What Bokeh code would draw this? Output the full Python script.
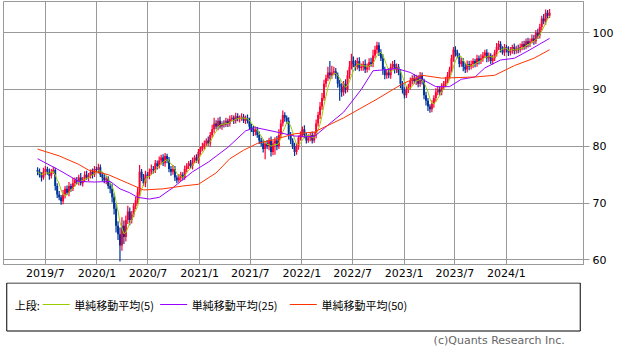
import numpy as np
import pandas as pd
from bokeh.plotting import figure
from bokeh.layouts import column
from bokeh.models import Range1d, FixedTicker, ColumnDataSource
from bokeh.core.properties import value
from bokeh.embed import file_html
from bokeh.resources import INLINE

# ---------------- data (weekly) ----------------
start_date = "2019-06-03"
first_open = 75.8
closes = [
    75.5, 75, 74.5, 75.5, 76, 75.5, 74.8, 75.5, 75.8,
    73, 71.5, 71, 70.3,
    71.5, 72.5, 71.8, 73, 72.5, 73.5,
    74, 73.8, 74.5, 73.5, 74.2, 75, 74.5, 74.8, 75.5, 75,
    76, 75.8, 76.3,
    75, 74.5, 74, 74.3,
    73, 72.5, 71,
    69, 66, 64.5, 62.5, 66, 64,
    67, 68.5, 67, 68, 69.5, 70.5, 72,
    75.5, 74.5, 73.5, 75, 74.8, 75.5, 76, 75.8,
    77, 76.5, 77.5, 78, 77, 78.3, 77.5,
    76, 75.5, 76, 74.5, 74, 74.5, 75, 74.5,
    76, 76.5, 77, 76.5, 77.5, 78, 77.5,
    79, 79.5, 80, 80.5, 81, 80.5, 82,
    83, 84, 83.5, 84.5, 83.5, 84, 83.8,
    84.5, 84, 84.8, 85, 84.5, 85.3, 84.8, 85, 85.2, 84.5, 85, 84.5,
    83.5, 83, 82.5, 83, 82,
    81, 80.5, 79.5, 80.5, 80, 81, 79, 80.5, 81, 80,
    82, 84, 85.5, 85, 84.5,
    82, 81, 80, 79, 80,
    81.5, 82, 83, 82, 81, 81.5, 82, 81, 82,
    84, 85.5, 87, 88.5, 91, 92,
    93, 92.5, 93, 93.2, 92.5,
    91, 90.5, 89.5, 91, 90,
    92.5, 94, 95, 94.5, 94, 95, 93.8,
    94, 94.5, 93.5, 94, 94.8, 94.5,
    96, 97, 97.8, 96.5, 95.5,
    93.5, 92.5, 93, 92.5,
    94, 94.5, 93.5, 94, 93,
    91, 90, 89, 90, 90.5,
    91.5, 92, 91.5, 92, 91, 92.5, 91.5,
    89, 88, 87, 86.5, 87.5,
    88.5, 89.5, 90, 89.5, 90.5, 91, 91.5,
    92.5, 93.5, 95.5, 97, 96.5, 96,
    94.5, 95, 94, 93.5, 94.5, 94,
    94.5, 95, 94.5, 95.5, 95, 95.5,
    96, 96.5, 95.5, 96, 95, 95.5, 96.5,
    97.5, 98, 97, 96.5, 97.5, 97,
    96.5, 97, 97.5, 96.8, 97.2, 97,
    97.5, 98, 97.5, 98.5, 98,
    98.5, 99, 98.5, 100, 99.5, 101,
    102.5, 102, 103.5, 103, 103.5,
]
up_wicks = [
    .5, .6, .4, .7, .5, .4, .6, .5, .6, .4,
    .5, .6, .4, .8, .5, .6, .7, .4, .9, .5,
    .6, .5, .8, .4, .6, .7, .5, .4, .6, .5,
    .4, .6, .5, .4, .6, .5, .4, .6, .8, .7,
    1.0, .8, 1.2, 1.5, .9, .8, 1.0, .7, .6, .5,
    .6, .8, 1.2, .5, .6, .7, .4, .6, .8, .5,
    .6, .5, .7, .5, .6, .5, .4, .6, .5, .7,
    .5, .4, .6, .5, .4, .6, .5, .4, .6, .5,
    .4, .6, .5, .4, .6, .5, .4, .7, .5, .8,
    1.0, .6, .5, .7, .4, .6, .5, .4, .6, .5,
    .4, .6, .5, .4, .6, .5, .4, .6, .5, .4,
    .6, .5, .4, .6, .5, .7, .4, .6, .5, .7,
    .5, .6, .8, 1.0, .7, .8, .5, .4, .6, .5,
    .4, .6, .5, .4, .6, .5, .7, .4, .6, .5,
    .6, .5, .7, .6, .8, .9, .7, .6, 1.0, 2.0,
    1.2, .8, .6, .5, .7, .6, .5, .8, .9, 1.0,
    1.3, .8, .7, .6, .7, .6, .5, .8, .6, .7,
    .8, 1.0, .7, .6, .5, .6, .7, .5, .6, .8,
    .6, .5, .7, .6, .5, .6, .5, .4, .6, .5,
    .6, .5, .7, .6, .5, .6, .5, .4, .6, .5,
    .4, .6, .5, .7, .6, .5, .6, .5, .7, .6,
    .5, .6, .5, .6, .5, .4, .6, .5, .7, .6,
    .5, .6, .5, .4, .6, .5, .7, .6, .5, .6,
    .5, .4, .6, .5, .7, .6, .5, .6, .5, .4,
    .6, .5, .4, .6, .5, .7, .6, .5, .6, .5,
    .6, .5, .7, .6, .5, .7, .6, .5, .8, .6,
    .5, .7,
]
down_wicks = [
    .6, .5, .7, .4, .6, .5, .7, .5, .4, .8,
    .6, .5, .6, .5, .7, .4, .6, .5, .4, .6,
    .5, .7, .4, .6, .5, .4, .6, .5, .7, .4,
    .5, .6, .4, .6, .5, .7, .5, .8, .9, 1.0,
    1.2, 1.0, 2.8, .9, 1.2, .8, .7, .9, .6, .5,
    .6, .7, .8, .6, .5, .7, .4, .6, .5, .6,
    .5, .6, .4, .7, .5, .6, .5, .6, .7, .5,
    .6, .5, .4, .6, .5, .4, .6, .5, .4, .6,
    .5, .4, .6, .5, .4, .6, .5, .4, .6, .5,
    .6, .5, .7, .4, .6, .5, .4, .6, .5, .4,
    .6, .5, .4, .6, .5, .4, .6, .5, .6, .5,
    .7, .6, .5, .6, .5, .6, 1.8, .5, .7, .8,
    .6, 2.0, .7, .5, .6, .5, .7, .6, .8, .6,
    .5, .7, .5, .6, .5, .4, .6, .5, .4, .6,
    .5, .4, .6, .5, .7, .6, .5, .6, .5, .7,
    .6, .5, .6, .7, 2.5, .8, .6, .7, .5, .6,
    .5, .6, .7, .5, .6, .5, .7, .6, .5, .6,
    .5, .6, .5, .7, .6, .5, .9, .7, .6, .5,
    .6, .5, .7, .6, .5, .8, .7, .6, .5, .6,
    .5, .6, .5, .7, .6, .5, .6, .7, .8, .8,
    .6, .5, .7, .6, .5, .6, .5, .6, .5, .4,
    .6, .5, .6, .7, .5, .6, .5, .8, .6, .5,
    .6, .5, .7, .6, .5, .6, .5, .6, .5, .7,
    .6, .5, .6, .5, .7, .6, .5, .4, .6, .5,
    .6, .5, .7, .6, .5, .6, .5, .6, .5, .4,
    .6, .5, .4, .6, .5, .6, .5, .6, .5, .6,
    .5, .4,
]

ma25_weeks = [0, 11, 21, 29, 37, 42, 47, 51, 57, 62, 69, 79, 87, 97, 106, 111,
              122, 131, 141, 150, 156, 165, 171, 178, 183, 190, 196, 203, 210,
              216, 223, 228, 236, 243, 250, 256, 261]
ma25_values = [77.8, 75.8, 73.8, 73.7, 73.8, 72.5, 71.8, 71.0, 70.7, 71.0, 72.7,
               75.5, 77.2, 79.8, 82.7, 83.3, 82.5, 81.8, 81.7, 84.3, 86.0, 90.0,
               93.3, 93.5, 93.7, 93.0, 91.8, 90.5, 90.5, 91.8, 92.2, 93.8, 95.2,
               95.5, 96.8, 98.0, 99.0]
ma50_weeks = [0, 11, 21, 26, 36, 46, 54, 64, 74, 82, 91, 98, 105, 112, 122, 131,
              141, 156, 173, 186, 196, 206, 223, 233, 243, 253, 261]
ma50_values = [79.5, 78.3, 76.8, 75.8, 75.0, 73.5, 72.3, 72.5, 73.0, 73.3, 75.3,
               77.8, 79.3, 80.5, 81.3, 82.2, 82.5, 85.0, 88.3, 91.0, 92.5, 92.0,
               92.2, 92.5, 94.2, 95.5, 97.0]

tick_dates = ["2019-07-01", "2020-01-01", "2020-07-01", "2021-01-01", "2021-07-01",
              "2022-01-01", "2022-07-01", "2023-01-01", "2023-07-01", "2024-01-01"]
tick_labels = ["2019/7", "2020/1", "2020/7", "2021/1", "2021/7",
               "2022/1", "2022/7", "2023/1", "2023/7", "2024/1"]
y_ticks = [60, 70, 80, 90, 100]

legend_title = "上段:"
legend_labels = ["単純移動平均(5)", "単純移動平均(25)", "単純移動平均(50)"]
ma_colors = ["#99cc00", "#9900ff", "#ff3300"]
up_color = "#ff0033"
down_color = "#003399"
copyright_text = "(c)Quants Research Inc."

# ---------------- build ----------------
origin = pd.Timestamp("2019-07-01")
n = min(len(closes), len(up_wicks), len(down_wicks))
cl = np.array(closes[:n], dtype=float)
op = np.concatenate([[first_open], cl[:-1]])
top = np.maximum(op, cl)
bot = np.minimum(op, cl)
hi = top + np.array(up_wicks[:n])
lo = bot - np.array(down_wicks[:n])
dates = pd.date_range(start_date, periods=n, freq="7D")
xd = np.array((dates - origin).days, dtype=float)
colors = [up_color if c >= o else down_color for o, c in zip(op, cl)]
bot_adj = np.where(top - bot < 0.2, top - 0.2, bot)

src = ColumnDataSource(dict(x=xd, hi=hi, lo=lo, top=top, bot=bot_adj, color=colors))
ma5 = pd.Series(cl).rolling(5, min_periods=1).mean().values

def wk_x(weeks):
    return [float(xd[min(w, n - 1)]) for w in weeks]

tick_x = [float((pd.Timestamp(d) - origin).days) for d in tick_dates]

p = figure(width=622, height=282, output_backend="svg", toolbar_location=None,
           x_range=Range1d(-149.6, 1920), y_range=Range1d(59.17, 105.5),
           y_axis_location="right",
           min_border_left=3, min_border_right=39, min_border_top=1, min_border_bottom=15)
p.background_fill_color = "white"
p.border_fill_color = "white"
p.outline_line_color = "#999999"
p.outline_line_width = 1

grid_col = "#999999"
p.xaxis.ticker = FixedTicker(ticks=tick_x)
p.xgrid.ticker = FixedTicker(ticks=tick_x)
p.xaxis.major_label_overrides = {t: l for t, l in zip(tick_x, tick_labels)}
p.yaxis.ticker = FixedTicker(ticks=y_ticks)
p.ygrid.ticker = FixedTicker(ticks=y_ticks)
for g in (p.xgrid, p.ygrid):
    g.grid_line_color = grid_col
    g.grid_line_width = 1
    g.grid_line_alpha = 1

p.xaxis.major_tick_out = 0
p.xaxis.major_tick_in = 0
p.xaxis.minor_tick_out = 0
p.xaxis.minor_tick_in = 0
p.xaxis.major_label_standoff = 2
p.yaxis.major_tick_out = 6
p.yaxis.major_tick_in = 0
p.yaxis.minor_tick_out = 0
p.yaxis.minor_tick_in = 0
p.yaxis.major_label_standoff = 3
for ax in (p.xaxis, p.yaxis):
    ax.axis_line_color = grid_col
    ax.major_tick_line_color = grid_col
    ax.major_label_text_font = "DejaVu Sans"
    ax.major_label_text_font_size = "11px"
    ax.major_label_text_color = "#000000"

p.segment(x0="x", y0="hi", x1="x", y1="lo", color="color", line_width=1.2, source=src)
p.vbar(x="x", top="top", bottom="bot", width=7, fill_color="color", line_color=None, source=src)

p.line(xd, ma5, line_color=ma_colors[0], line_width=1)
p.line(wk_x(ma25_weeks), ma25_values, line_color=ma_colors[1], line_width=1)
p.line(wk_x(ma50_weeks), ma50_values, line_color=ma_colors[2], line_width=1)

# ---------------- legend panel ----------------
p2 = figure(width=622, height=64, output_backend="svg", toolbar_location=None,
            x_range=Range1d(0, 622), y_range=Range1d(64, 0),
            min_border=0, min_border_left=0, min_border_right=0,
            min_border_top=0, min_border_bottom=0)
p2.axis.visible = False
p2.grid.visible = False
p2.outline_line_color = None
p2.background_fill_color = "white"
p2.border_fill_color = "white"

p2.quad(left=[3.5], right=[618.5], top=[0.5], bottom=[48.5],
        fill_color=None, line_color="#000000", line_width=1)
ly = 22
p2.text(x=[12], y=[ly], text=[legend_title], text_font=value("Noto Sans CJK JP"),
        text_font_size="11px", text_baseline="middle", text_align="left", text_color="#000000")
line_x0 = [42, 168, 307]
for x0, lab, col in zip(line_x0, legend_labels, ma_colors):
    p2.segment(x0=[x0], y0=[ly], x1=[x0 + 29], y1=[ly], line_color=col, line_width=1)
    p2.text(x=[x0 + 34], y=[ly], text=[lab], text_font=value("Noto Sans CJK JP"),
            text_font_size="11px", text_baseline="middle", text_align="left", text_color="#000000")
p2.text(x=[602], y=[58], text=[copyright_text], text_font=value("DejaVu Sans"),
        text_font_size="11px", text_baseline="middle", text_align="right", text_color="#666666")

layout = column(p, p2, spacing=0)
open("out.html", "w").write(file_html(layout, INLINE))
